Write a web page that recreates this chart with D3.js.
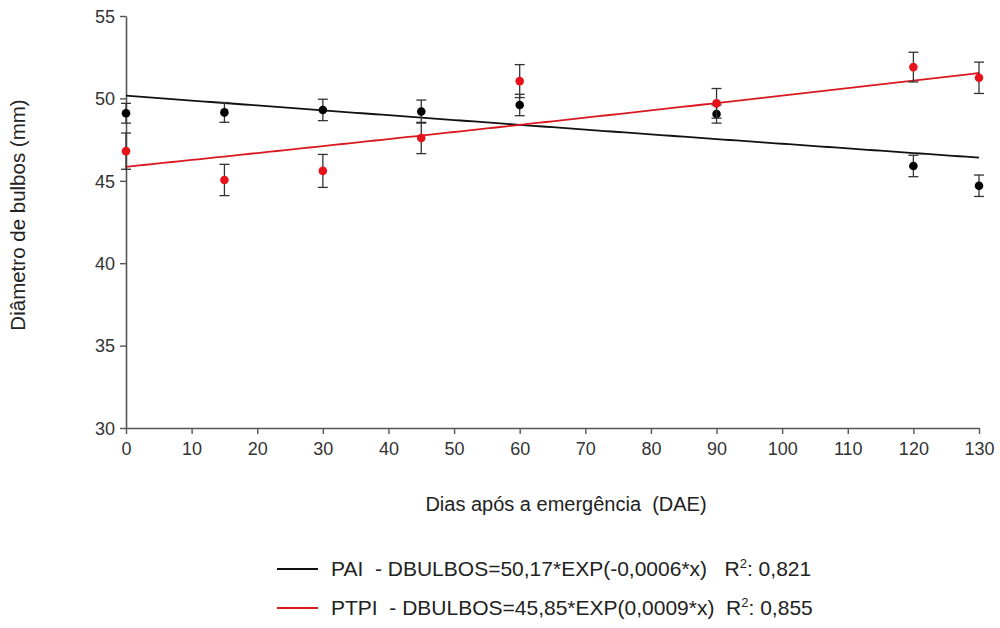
<!DOCTYPE html>
<html>
<head>
<meta charset="utf-8">
<script src="https://cdn.jsdelivr.net/npm/d3@7/dist/d3.min.js"></script>
<style>
  body { margin: 0; background: #fff; }
  svg text { font-family: "Liberation Sans", Arial, sans-serif; white-space: pre; }
</style>
</head>
<body>
<svg id="chart" width="1000" height="628"></svg>
<script>
// data
var days = [0, 15, 30, 45, 60, 90, 120, 130];
var paiMean = [49.1, 49.15, 49.3, 49.2, 49.6, 49.05, 45.9, 44.7];
var paiErr  = [0.6, 0.6, 0.65, 0.7, 0.65, 0.55, 0.65, 0.65];
var ptpiMean = [46.8, 45.05, 45.6, 47.6, 51.05, 49.7, 51.9, 51.25];
var ptpiErr  = [1.1, 0.95, 1.0, 0.95, 1.0, 0.9, 0.9, 0.95];
// fitted curves: a*exp(b*x), as given in the legend
var paiFit = [50.17, -0.0006];
var ptpiFit = [45.85, 0.0009];
var xTicks = [0, 10, 20, 30, 40, 50, 60, 70, 80, 90, 100, 110, 120, 130];
var yTicks = [30, 35, 40, 45, 50, 55];
var legendText = [
  "PAI  - DBULBOS=50,17*EXP(-0,0006*x)   R",
  "PTPI  - DBULBOS=45,85*EXP(0,0009*x)  R"
];
var legendR2 = [": 0,821", ": 0,855"];

var svg = d3.select('#chart');
var plotL = 126, plotR = 979, plotT = 16, plotB = 428;

var x = d3.scaleLinear().domain([0, 130]).range([plotL, plotR]);
var y = d3.scaleLinear().domain([30, 55]).range([plotB, plotT]);

var series = [
  { mean: paiMean, err: paiErr, fit: paiFit, color: '#000000', line: '#111111' },
  { mean: ptpiMean, err: ptpiErr, fit: ptpiFit, color: '#e8121a', line: '#d9191f' }
];

// axes
var xAxis = svg.append('g')
  .attr('transform', `translate(0,${plotB})`)
  .call(d3.axisBottom(x).tickValues(xTicks).tickSize(6).tickSizeOuter(0));
var yAxis = svg.append('g')
  .attr('transform', `translate(${plotL},0)`)
  .call(d3.axisLeft(y).tickValues(yTicks).tickSize(6).tickSizeOuter(0));

[xAxis, yAxis].forEach(function(g) {
  g.select('.domain').attr('stroke', '#555').attr('stroke-width', 1.6);
  g.selectAll('.tick line').attr('stroke', '#555').attr('stroke-width', 1.4);
  g.selectAll('.tick text').attr('fill', '#333').style('font-size', '18px');
});
xAxis.selectAll('.tick text').attr('dy', '1.0em');
yAxis.selectAll('.tick text').attr('x', -11).attr('dy', '0.35em');

// fit lines
var fitX = d3.range(0, 131, 1);
series.forEach(function(s) {
  var line = d3.line()
    .x(d => x(d))
    .y(d => y(s.fit[0] * Math.exp(s.fit[1] * d)));
  svg.append('path')
    .datum(fitX)
    .attr('d', line)
    .attr('fill', 'none')
    .attr('stroke', s.line)
    .attr('stroke-width', 1.8);
});

// error bars and points
series.forEach(function(s) {
  var g = svg.append('g');
  var pts = days.map((d, i) => ({ d: d, m: s.mean[i], e: s.err[i] }));
  var eb = g.selectAll('g.eb').data(pts).enter().append('g')
    .attr('stroke', '#333').attr('stroke-width', 1.3);
  eb.append('line')
    .attr('x1', d => x(d.d)).attr('x2', d => x(d.d))
    .attr('y1', d => y(d.m - d.e)).attr('y2', d => y(d.m + d.e));
  eb.append('line')
    .attr('x1', d => x(d.d) - 5).attr('x2', d => x(d.d) + 5)
    .attr('y1', d => y(d.m + d.e)).attr('y2', d => y(d.m + d.e));
  eb.append('line')
    .attr('x1', d => x(d.d) - 5).attr('x2', d => x(d.d) + 5)
    .attr('y1', d => y(d.m - d.e)).attr('y2', d => y(d.m - d.e));
  g.selectAll('circle').data(pts).enter().append('circle')
    .attr('cx', d => x(d.d))
    .attr('cy', d => y(d.m))
    .attr('r', 4.3)
    .attr('fill', s.color);
});

// axis titles
svg.append('text')
  .attr('x', 566).attr('y', 511)
  .attr('text-anchor', 'middle')
  .style('font-size', '20px').attr('fill', '#222')
  .text('Dias após a emergência  (DAE)');
svg.append('text')
  .attr('transform', 'translate(25,215) rotate(-90)')
  .attr('text-anchor', 'middle')
  .style('font-size', '20.5px').attr('fill', '#222')
  .text('Diâmetro de bulbos (mm)');

// legend
var legY = [569, 608];
series.forEach(function(s, i) {
  svg.append('line')
    .attr('x1', 277).attr('x2', 318)
    .attr('y1', legY[i]).attr('y2', legY[i])
    .attr('stroke', s.line).attr('stroke-width', 1.8);
  var t = svg.append('text')
    .attr('x', 331).attr('y', legY[i] + 7)
    .style('font-size', '21px').attr('fill', '#222');
  t.append('tspan').text(legendText[i]);
  t.append('tspan').attr('dy', -8).style('font-size', '13px').text('2');
  t.append('tspan').attr('dy', 8).text(legendR2[i]);
});
</script>
</body>
</html>
